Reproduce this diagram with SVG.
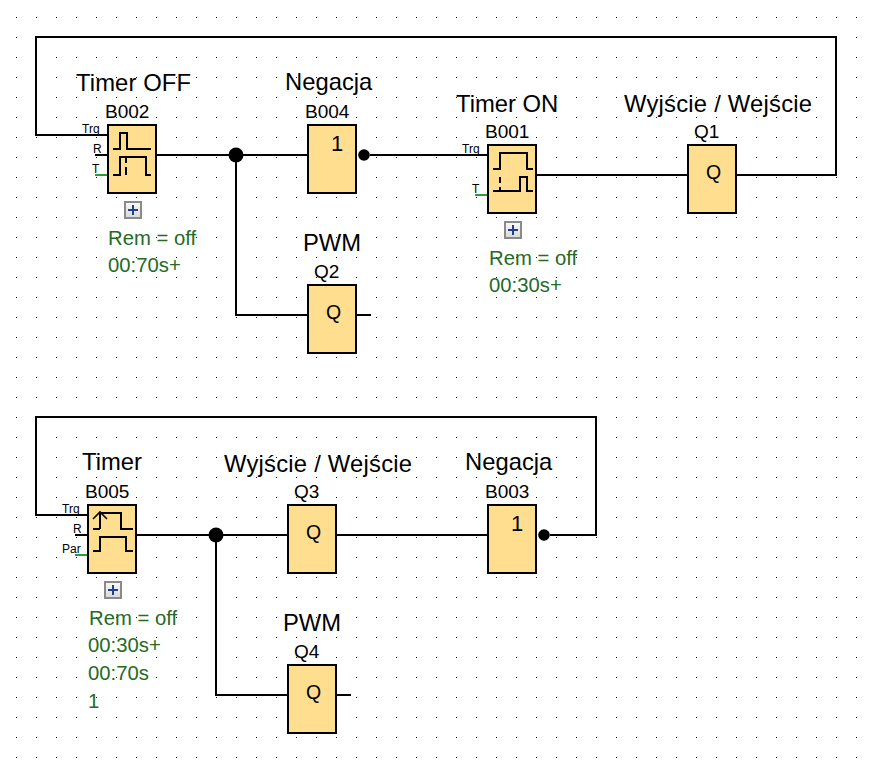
<svg xmlns="http://www.w3.org/2000/svg" width="872" height="774" viewBox="0 0 872 774">
<style>
text{font-family:"Liberation Sans",Arial,sans-serif;fill:#000}
.t{font-size:23.8px}.n{font-size:19px}.p{font-size:12px}.g{font-size:20.3px;fill:#246b24}.q{font-size:19.5px}.o{font-size:22px}
.w{fill:none;stroke:#000;stroke-width:2;shape-rendering:crispEdges}.pw{fill:none;stroke:#2f9b30;stroke-width:2;shape-rendering:crispEdges}
.b{fill:#ffdf8f;stroke:#000;stroke-width:2;shape-rendering:crispEdges}.s{fill:none;stroke:#000;stroke-width:2;shape-rendering:crispEdges}
.a{fill:none;stroke:#000;stroke-width:1.600}
</style>
<defs>
<pattern id="dots" x="16" y="17" width="20" height="20" patternUnits="userSpaceOnUse"><rect width="1" height="1" fill="#000"/></pattern>
<linearGradient id="pg" x1="0" y1="0" x2="0" y2="1"><stop offset="0" stop-color="#fafafa"/><stop offset="1" stop-color="#d8d8d8"/></linearGradient>
<g id="plus"><rect x="1" y="1" width="16" height="16" fill="url(#pg)" stroke="#8a8a8a" stroke-width="2"/><path d="M4 9H14M9 4V14" stroke="#1f3f8f" stroke-width="2" fill="none"/></g>
</defs>
<rect width="872" height="774" fill="#fff"/>
<rect x="0" y="0" width="872" height="774" fill="url(#dots)"/>
<g id="connectors">
<path class="w" d="M108 135H36V37H836V175H736"/>
<path class="w" d="M156 155H308M236 155V315H308"/>
<path class="w" d="M370 155H488"/>
<path class="w" d="M536 175H688"/>
<path class="w" d="M356 315H371"/>
<path class="w" d="M88 515H36V417H596V535H550"/>
<path class="w" d="M136 535H288M216 535V695H288"/>
<path class="w" d="M336 535H488"/>
<path class="w" d="M336 695H351"/>
<path class="w" d="M95 155H108"/>
<path class="w" d="M75 535H88"/>
<path class="pw" d="M95 175H108M475 195H488M75 555H88"/>
<circle cx="236" cy="155" r="7.500"/><circle cx="216" cy="535" r="7.500"/>
<circle cx="364" cy="155" r="5.800"/><circle cx="544" cy="535" r="5.800"/>
</g>
<g id="B002">
<rect class="b" x="108" y="125" width="48" height="68"/>
<path class="s" d="M113 149H120V133H127V149H151M113 175H120V157H146V175H151M126 157V163M126 167V175"/>
<text class="t" x="76" y="91" textLength="115">Timer OFF</text><text class="n" x="105" y="118">B002</text>
<text class="p" x="82" y="133">Trg</text><text class="p" x="93" y="153">R</text><text class="p" x="92" y="173">T</text>
<use href="#plus" x="124" y="201"/>
<text class="g" x="108" y="245">Rem = off</text><text class="g" x="108" y="272">00:70s+</text>
</g>
<g id="B004">
<rect class="b" x="308" y="125" width="48" height="68"/>
<text class="o" x="331" y="151">1</text>
<text class="t" x="285" y="90">Negacja</text><text class="n" x="305" y="118">B004</text>
</g>
<g id="B001">
<rect class="b" x="488" y="145" width="48" height="68"/>
<path class="s" d="M493 169H500V153H527V169H533M493 191H520V177H527V191H533M500 177V183M500 187V191"/>
<text class="t" x="456" y="112">Timer ON</text><text class="n" x="485" y="138">B001</text>
<text class="p" x="462" y="153">Trg</text><text class="p" x="472" y="193">T</text>
<use href="#plus" x="504" y="221"/>
<text class="g" x="489" y="265">Rem = off</text><text class="g" x="489" y="292">00:30s+</text>
</g>
<g id="Q1">
<rect class="b" x="688" y="145" width="48" height="68"/>
<text class="q" x="706" y="179">Q</text>
<text class="t" x="624" y="112" textLength="188">Wyjście / Wejście</text><text class="n" x="694" y="138">Q1</text>
</g>
<g id="Q2">
<rect class="b" x="308" y="285" width="48" height="68"/>
<text class="q" x="326" y="319">Q</text>
<text class="t" x="303" y="251">PWM</text><text class="n" x="314" y="278">Q2</text>
</g>
<g id="B005">
<rect class="b" x="88" y="505" width="48" height="68"/>
<path class="s" d="M100 529V513H121V529H133M93 529H100M93 551H100V537H126V551H133"/>
<path class="a" d="M93 519L100 512L107 519"/>
<text class="t" x="82" y="470">Timer</text><text class="n" x="85" y="498">B005</text>
<text class="p" x="62" y="513">Trg</text><text class="p" x="73" y="533">R</text><text class="p" x="62" y="553">Par</text>
<use href="#plus" x="104" y="581"/>
<text class="g" x="89" y="625">Rem = off</text><text class="g" x="88" y="652">00:30s+</text><text class="g" x="88" y="680">00:70s</text><text class="g" x="88" y="708">1</text>
</g>
<g id="Q3">
<rect class="b" x="288" y="505" width="48" height="68"/>
<text class="q" x="306" y="539">Q</text>
<text class="t" x="224" y="472" textLength="188">Wyjście / Wejście</text><text class="n" x="294" y="498">Q3</text>
</g>
<g id="B003">
<rect class="b" x="488" y="505" width="48" height="68"/>
<text class="o" x="511" y="531">1</text>
<text class="t" x="465" y="470">Negacja</text><text class="n" x="485" y="498">B003</text>
</g>
<g id="Q4">
<rect class="b" x="288" y="665" width="48" height="68"/>
<text class="q" x="306" y="699">Q</text>
<text class="t" x="283" y="631">PWM</text><text class="n" x="294" y="658">Q4</text>
</g>
</svg>
